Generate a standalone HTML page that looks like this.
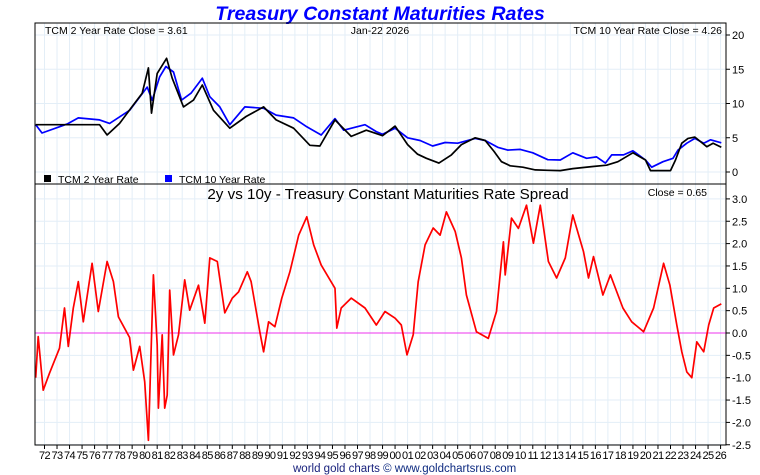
<!DOCTYPE html>
<html><head><meta charset="utf-8">
<style>
html,body{margin:0;padding:0;background:#fff;}
svg{display:block;font-family:"Liberation Sans",sans-serif;}
</style></head>
<body>
<svg id="chart" width="760" height="475" viewBox="0 0 760 475" xmlns="http://www.w3.org/2000/svg">
<text x="380" y="20" text-anchor="middle" font-size="19.6" font-weight="bold" font-style="italic" fill="#0000ff">Treasury Constant Maturities Rates</text>
<g id="grid"></g>
<g id="marks"></g>
<g id="axes"></g>
<text x="45" y="34" font-size="10.5" fill="#000">TCM 2 Year Rate Close = 3.61</text>
<text x="380" y="34" font-size="10.5" fill="#000" text-anchor="middle">Jan-22  2026</text>
<text x="722" y="34" font-size="10.5" fill="#000" text-anchor="end">TCM 10 Year Rate Close = 4.26</text>
<rect x="44" y="175" width="7" height="7" fill="#000"/>
<text x="58" y="183" font-size="10.5">TCM 2 Year Rate</text>
<rect x="165" y="175" width="7" height="7" fill="#0000ff"/>
<text x="179" y="183" font-size="10.5">TCM 10 Year Rate</text>
<text x="388" y="199" font-size="15.2" text-anchor="middle" fill="#000">2y vs 10y - Treasury Constant Maturities Rate Spread</text>
<text x="707" y="196" font-size="10.5" text-anchor="end">Close = 0.65</text>
<text x="293" y="472" font-size="11.5" fill="#1a237e">world gold charts <tspan fill="#0d2a80">© www.goldchartsrus.com</tspan></text>
</svg>
<script>
// ---- data ----
const y2Years = [1971.3,1976.4,1977.0,1978.0,1979.1,1979.8,1980.3,1980.55,1981.0,1981.75,1982.2,1983.1,1983.9,1984.6,1985.5,1986.8,1988.1,1989.5,1990.5,1991.9,1993.2,1994.0,1995.2,1996.5,1997.7,1998.5,1999.0,2000.0,2001.0,2001.8,2002.5,2003.5,2004.5,2005.3,2006.4,2007.2,2007.9,2008.5,2009.2,2010.2,2011.2,2012.2,2013.2,2014.2,2015.8,2016.9,2017.8,2019.0,2020.0,2020.4,2022.0,2022.4,2022.9,2023.4,2023.95,2024.9,2025.4,2026.06];
const y2Values = [6.9,6.9,5.4,7.1,9.8,11.5,15.2,8.6,14.4,16.6,13.7,9.5,10.5,12.7,9.0,6.4,8.1,9.5,7.6,6.4,3.9,3.8,7.6,5.2,6.1,5.6,5.3,6.7,4.0,2.6,2.0,1.3,2.5,4.0,5.0,4.6,3.0,1.5,0.9,0.7,0.3,0.25,0.2,0.5,0.8,1.0,1.5,2.8,1.75,0.2,0.2,1.75,4.2,4.9,5.1,3.7,4.2,3.61];
const y10Years = [1971.3,1971.8,1973.8,1974.7,1976.4,1977.2,1978.8,1980.2,1980.6,1981.2,1981.7,1982.3,1982.95,1983.7,1984.6,1985.2,1986.0,1986.8,1988.0,1989.5,1990.5,1991.9,1992.95,1994.1,1995.2,1995.9,1997.6,1998.5,1999.0,2000.0,2001.0,2002.0,2003.0,2004.0,2005.0,2006.4,2007.2,2008.2,2009.0,2010.0,2011.0,2012.2,2013.2,2014.2,2015.3,2016.1,2016.8,2017.3,2018.25,2019.0,2020.0,2020.5,2021.4,2022.2,2022.6,2023.3,2023.95,2024.65,2025.2,2026.06];
const y10Values = [6.9,5.7,7.0,7.9,7.6,7.1,9.0,12.4,10.5,13.9,15.4,14.6,10.5,11.5,13.7,11.0,9.5,6.9,9.5,9.3,8.3,7.9,6.6,5.4,7.8,6.1,6.9,5.9,5.5,6.4,5.0,4.6,3.8,4.3,4.2,4.9,4.6,3.6,3.2,3.3,2.8,1.8,1.75,2.8,2.0,2.2,1.3,2.5,2.5,3.1,1.75,0.7,1.5,2.0,3.2,4.2,4.9,4.2,4.7,4.26];
const spreadYears = [1971.3,1971.5,1971.9,1972.4,1973.2,1973.6,1973.9,1974.3,1974.7,1975.1,1975.8,1976.3,1977.0,1977.5,1977.9,1978.8,1979.1,1979.6,1980.0,1980.3,1980.7,1981.0,1981.1,1981.4,1981.6,1981.8,1982.0,1982.3,1982.7,1983.2,1983.6,1984.3,1984.8,1985.2,1985.8,1986.4,1987.0,1987.5,1988.2,1988.5,1989.2,1989.5,1989.9,1990.4,1990.95,1991.6,1992.3,1992.95,1993.5,1994.1,1995.2,1995.35,1995.7,1996.5,1997.6,1998.5,1999.2,2000.0,2000.5,2000.95,2001.45,2001.85,2002.4,2003.05,2003.6,2004.1,2004.8,2005.3,2005.7,2006.5,2007.45,2008.1,2008.65,2008.8,2009.3,2009.85,2010.5,2011.05,2011.6,2012.25,2012.9,2013.6,2014.2,2015.05,2015.45,2015.85,2016.6,2017.2,2018.2,2018.9,2019.85,2020.65,2021.45,2021.95,2022.5,2022.9,2023.3,2023.7,2024.1,2024.65,2025.05,2025.45,2026.06];
const spreadValues = [-1.0,-0.08,-1.28,-0.9,-0.34,0.56,-0.3,0.56,1.15,0.25,1.56,0.48,1.6,1.15,0.36,-0.1,-0.83,-0.3,-1.09,-2.4,1.3,-0.27,-1.68,-0.04,-1.68,-1.39,0.96,-0.49,-0.04,1.19,0.51,1.07,0.22,1.68,1.6,0.45,0.78,0.92,1.37,1.15,0.03,-0.42,0.25,0.14,0.78,1.37,2.19,2.6,1.97,1.52,1.0,0.11,0.56,0.78,0.56,0.18,0.48,0.33,0.18,-0.49,-0.04,1.15,1.97,2.35,2.19,2.71,2.27,1.68,0.85,0.03,-0.12,0.48,2.04,1.3,2.57,2.34,2.86,2.01,2.86,1.6,1.23,1.68,2.64,1.82,1.23,1.71,0.85,1.3,0.56,0.25,0.03,0.56,1.56,1.07,0.18,-0.42,-0.87,-1.0,-0.2,-0.42,0.18,0.56,0.65];
const topTicks = [0,5,10,15,20];
const botTicks = [-2.5,-2.0,-1.5,-1.0,-0.5,0.0,0.5,1.0,1.5,2.0,2.5,3.0];
const yearLabels = ["72","73","74","75","76","77","78","79","80","81","82","83","84","85","86","87","88","89","90","91","92","93","94","95","96","97","98","99","00","01","02","03","04","05","06","07","08","09","10","11","12","13","14","15","16","17","18","19","20","21","22","23","24","25","26"];
// ---- layout ----
const L=35,R=726,T=23,MID=184,B=445;
const NS="http://www.w3.org/2000/svg";
const xS=y=>44.5+(y-1972)*12.52;
const yTop=v=>172-v*6.85;
const yBot=v=>333-v*44.7;
function mk(tag,attrs,parent){const e=document.createElementNS(NS,tag);for(const k in attrs)e.setAttribute(k,attrs[k]);parent.appendChild(e);return e;}
const grid=document.getElementById('grid'),marks=document.getElementById('marks'),axes=document.getElementById('axes');
yearLabels.forEach((lab,i)=>{
  const x=xS(1972+i);
  const g1=mk('line',{x1:x,x2:x,y1:T,y2:B,stroke:'#e3eef7','stroke-width':1},grid);
  
  
  const tk=mk('line',{x1:x,x2:x,y1:B,y2:B+4,stroke:'#000'},axes);
  
  
  const t=mk('text',{x:x,y:B+14,'font-size':'11','text-anchor':'middle',fill:'#000','letter-spacing':'-0.6'},axes);
  t.textContent=lab;
  
  
});
topTicks.forEach(v=>{
  const y=yTop(v);
  const gl=mk('line',{x1:L,x2:R,y1:y,y2:y,stroke:'#e3eef7'},grid);
  
  
  mk('line',{x1:R,x2:R+4,y1:y,y2:y,stroke:'#000'},axes);
  const t=mk('text',{x:732,y:y+4,'font-size':'11'},axes);
  t.textContent=String(v);
  
  
});
botTicks.forEach(v=>{
  const y=yBot(v);
  const gl=mk('line',{x1:L,x2:R,y1:y,y2:y,stroke:'#e3eef7'},grid);
  
  
  mk('line',{x1:R,x2:R+4,y1:y,y2:y,stroke:'#000'},axes);
  const t=mk('text',{x:732,y:y+4,'font-size':'11'},axes);
  t.textContent=v.toFixed(1);
  
  
});
const z=mk('line',{x1:L,x2:R,y1:yBot(0),y2:yBot(0),stroke:'#ee33ee','stroke-width':1},grid);


function series(xs,vs,ys,color,name,w){
  const d=xs.map((x,i)=>(i?'L':'M')+xS(x).toFixed(1)+','+ys(vs[i]).toFixed(1)).join('');
  const p=mk('path',{d:d,fill:'none',stroke:color,'stroke-width':w,'stroke-linejoin':'round'},marks);
  
  
}
series(y10Years,y10Values,yTop,'#0000ff','line-10y-rate',1.7);
series(y2Years,y2Values,yTop,'#000000','line-2y-rate',1.7);
series(spreadYears,spreadValues,yBot,'#ff0000','line-spread',1.7);
const f1=mk('rect',{x:L,y:T,width:R-L,height:B-T,fill:'none',stroke:'#000','stroke-width':1},axes);


const dv=mk('line',{x1:L,x2:R,y1:MID,y2:MID,stroke:'#000'},axes);


</script>
</body></html>
